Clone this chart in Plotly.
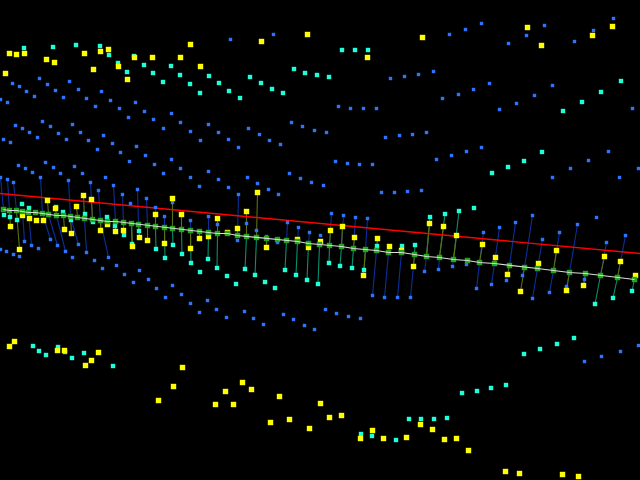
import plotly.graph_objects as go

# values, (x, y) in picture units
red_line_x = [0, 640]
red_line_y = [193.5, 253.5]

base_x = [3.5, 9.5, 16.5, 22.5, 28.5, 35.5, 42.5, 48.5, 56.5, 63.5, 70.5, 77.5, 84.5, 92.5, 100.5, 107.5,
          115.5, 123.5, 131.5, 138.5, 147.5, 155.5, 164.5, 172.5, 181.5, 190.5, 199.5, 208.5, 217.5, 227.5,
          237.5, 246.5, 256.5, 266.5, 277.5, 286.5, 297.5, 308.5, 319.5, 329.5, 341.5, 353.5, 365.5, 376.5,
          388.5, 401.5, 414.5, 426.5, 439.5, 453.5, 467.5, 479.5, 494.5, 509.5, 524.5, 537.5, 553.5, 569.5,
          585.5, 600.5, 617.5, 634.5]
base_y = [209.5, 210.5, 210.5, 211.5, 212.5, 212.5, 213.5, 214.5, 215.5, 215.5, 216.5, 217.5, 218.5, 219.5,
          220.5, 221.5, 221.5, 222.5, 223.5, 224.5, 225.5, 226.5, 227.5, 228.5, 229.5, 230.5, 231.5, 232.5,
          233.5, 233.5, 235.5, 236.5, 237.5, 238.5, 239.5, 240.5, 241.5, 243.5, 244.5, 245.5, 246.5, 248.5,
          249.5, 250.5, 252.5, 252.5, 254.5, 256.5, 257.5, 259.5, 260.5, 262.5, 263.5, 265.5, 267.5, 268.5,
          270.5, 272.5, 273.5, 275.5, 277.5, 279.5]

# (end x, end y, base x, base y)
blue_stems = [
    (0.5, 177.5, 3.5, 209.5), (7.5, 179.5, 9.5, 210.5), (13.5, 182.5, 16.5, 210.5), (40.5, 177.5, 42.5, 213.5),
    (68.5, 180.5, 70.5, 216.5), (90.5, 182.5, 92.5, 219.5), (98.5, 190.5, 100.5, 220.5), (113.5, 185.5, 115.5, 221.5),
    (122.5, 194.5, 123.5, 222.5), (137.5, 189.5, 138.5, 224.5), (146.5, 198.5, 147.5, 225.5), (155.5, 207.5, 155.5, 226.5),
    (164.5, 216.5, 164.5, 227.5), (172.5, 202.5, 172.5, 228.5), (190.5, 220.5, 190.5, 230.5), (208.5, 216.5, 208.5, 232.5),
    (24.5, 241.5, 22.5, 211.5), (31.5, 245.5, 28.5, 212.5), (50.5, 239.5, 42.5, 213.5), (57.5, 245.5, 48.5, 214.5),
    (65.5, 251.5, 56.5, 215.5), (78.5, 244.5, 70.5, 216.5), (86.5, 252.5, 84.5, 218.5), (108.5, 257.5, 100.5, 220.5),
    (238.5, 194.5, 237.5, 235.5), (287.5, 222.5, 286.5, 240.5), (298.5, 227.5, 297.5, 241.5), (309.5, 232.5, 308.5, 243.5),
    (331.5, 213.5, 329.5, 245.5), (343.5, 215.5, 341.5, 246.5), (355.5, 217.5, 353.5, 248.5), (367.5, 218.5, 365.5, 249.5),
    (372.5, 295.5, 376.5, 250.5), (384.5, 297.5, 388.5, 252.5), (397.5, 297.5, 401.5, 252.5), (410.5, 297.5, 414.5, 254.5),
    (424.5, 271.5, 426.5, 256.5), (438.5, 269.5, 439.5, 257.5), (452.5, 266.5, 453.5, 259.5), (466.5, 264.5, 467.5, 260.5),
    (483.5, 232.5, 479.5, 262.5), (476.5, 288.5, 479.5, 262.5), (499.5, 227.5, 494.5, 263.5), (491.5, 284.5, 494.5, 263.5),
    (515.5, 222.5, 509.5, 265.5), (506.5, 280.5, 509.5, 265.5), (532.5, 215.5, 524.5, 267.5), (522.5, 275.5, 524.5, 267.5),
    (542.5, 239.5, 537.5, 268.5), (532.5, 298.5, 537.5, 268.5), (559.5, 232.5, 553.5, 270.5), (549.5, 292.5, 553.5, 270.5),
    (577.5, 224.5, 569.5, 272.5), (566.5, 286.5, 569.5, 272.5), (584.5, 279.5, 585.5, 273.5), (606.5, 242.5, 600.5, 275.5),
    (625.5, 235.5, 617.5, 277.5),
]
cyan_stems = [
    (156, 249, 155.5, 226.5), (165, 258, 164.5, 227.5), (173, 245, 172.5, 228.5), (182, 254, 181.5, 229.5),
    (191, 263, 190.5, 230.5), (208, 259, 208.5, 232.5), (217, 268, 217.5, 233.5), (245, 269, 246.5, 236.5),
    (255, 275, 256.5, 237.5), (285, 270, 286.5, 240.5), (296, 275, 297.5, 241.5), (307, 280, 308.5, 243.5),
    (318, 284, 319.5, 244.5), (329, 263, 329.5, 245.5), (340, 266, 341.5, 246.5), (352, 268, 353.5, 248.5),
    (364, 270, 365.5, 249.5), (377, 246, 376.5, 250.5), (402, 246, 401.5, 252.5), (415, 245, 414.5, 254.5),
    (430, 217, 426.5, 256.5), (445, 214, 439.5, 257.5), (459, 211, 453.5, 259.5), (595, 304, 600.5, 275.5),
    (613, 298, 617.5, 277.5), (632, 291, 634.5, 279.5), (139, 231, 138.5, 224.5), (132, 244, 131.5, 223.5),
]
yellow_stems = [
    (47.5, 200.5, 48.5, 214.5), (83.5, 195.5, 84.5, 218.5), (91.5, 199.5, 92.5, 219.5), (55.5, 208.5, 56.5, 215.5),
    (76.5, 206.5, 77.5, 217.5), (10.5, 226.5, 9.5, 210.5), (19.5, 249.5, 16.5, 210.5), (64.5, 229.5, 63.5, 215.5),
    (71.5, 233.5, 70.5, 216.5), (100.5, 230.5, 100.5, 220.5), (115.5, 231.5, 115.5, 221.5), (123.5, 230.5, 123.5, 222.5),
    (139.5, 237.5, 138.5, 224.5), (147.5, 240.5, 147.5, 225.5), (132.5, 246.5, 131.5, 223.5), (172.5, 198.5, 172.5, 228.5),
    (155.5, 214.5, 155.5, 226.5), (181.5, 214.5, 181.5, 229.5), (199.5, 238.5, 199.5, 231.5), (208.5, 236.5, 208.5, 232.5),
    (164.5, 243.5, 164.5, 227.5), (190.5, 248.5, 190.5, 230.5), (217.5, 218.5, 217.5, 233.5), (237.5, 228.5, 237.5, 235.5),
    (246.5, 211.5, 246.5, 236.5), (257.5, 192.5, 256.5, 237.5), (266.5, 247.5, 266.5, 238.5), (308.5, 247.5, 308.5, 243.5),
    (320.5, 241.5, 319.5, 244.5), (330.5, 230.5, 329.5, 245.5), (342.5, 226.5, 341.5, 246.5), (354.5, 237.5, 353.5, 248.5),
    (363.5, 275.5, 365.5, 249.5), (377.5, 238.5, 376.5, 250.5), (389.5, 246.5, 388.5, 252.5), (401.5, 250.5, 401.5, 252.5),
    (413.5, 266.5, 414.5, 254.5), (429.5, 223.5, 426.5, 256.5), (443.5, 226.5, 439.5, 257.5), (456.5, 235.5, 453.5, 259.5),
    (482.5, 244.5, 479.5, 262.5), (495.5, 257.5, 494.5, 263.5), (507.5, 274.5, 509.5, 265.5), (520.5, 291.5, 524.5, 267.5),
    (538.5, 263.5, 537.5, 268.5), (556.5, 250.5, 553.5, 270.5), (566.5, 290.5, 569.5, 272.5), (583.5, 285.5, 585.5, 273.5),
    (604.5, 256.5, 600.5, 275.5), (620.5, 261.5, 617.5, 277.5), (635.5, 275.5, 634.5, 279.5),
]

blue_free = [
    (230.5, 39.5), (273.5, 34.5), (39.5, 78.5), (12.5, 83.5), (19.5, 86.5), (26.5, 91.5), (34.5, 96.5), (0.5, 99.5),
    (7.5, 102.5), (47.5, 84.5), (55.5, 90.5), (63.5, 97.5), (69.5, 81.5), (78.5, 89.5), (86.5, 98.5), (95.5, 106.5),
    (101.5, 91.5), (110.5, 100.5), (119.5, 108.5), (128.5, 117.5), (135.5, 102.5), (144.5, 111.5), (153.5, 119.5),
    (163.5, 128.5), (171.5, 113.5), (180.5, 122.5), (190.5, 131.5), (200.5, 140.5), (208.5, 124.5), (218.5, 132.5),
    (228.5, 139.5), (238.5, 147.5), (248.5, 128.5), (259.5, 134.5), (269.5, 140.5), (280.5, 144.5), (291.5, 122.5),
    (302.5, 126.5), (314.5, 130.5), (42.5, 121.5), (15.5, 125.5), (22.5, 128.5), (29.5, 132.5), (37.5, 137.5),
    (3.5, 139.5), (10.5, 142.5), (50.5, 126.5), (58.5, 133.5), (66.5, 139.5), (72.5, 124.5), (80.5, 132.5), (88.5, 140.5),
    (97.5, 149.5), (103.5, 135.5), (112.5, 143.5), (120.5, 152.5), (136.5, 146.5), (145.5, 155.5), (171.5, 159.5),
    (613.5, 18.5), (544.5, 25.5), (593.5, 30.5), (526.5, 35.5), (574.5, 41.5), (508.5, 43.5), (481.5, 23.5), (465.5, 29.5),
    (449.5, 34.5), (433.5, 71.5), (418.5, 74.5), (404.5, 76.5), (390.5, 78.5), (489.5, 83.5), (473.5, 89.5), (458.5, 94.5),
    (442.5, 98.5), (552.5, 85.5), (534.5, 95.5), (516.5, 103.5), (499.5, 109.5), (632.5, 108.5), (338.5, 106.5),
    (350.5, 108.5), (363.5, 108.5), (376.5, 108.5), (326.5, 132.5), (385.5, 137.5), (399.5, 135.5), (412.5, 134.5),
    (426.5, 132.5), (481.5, 147.5), (466.5, 151.5), (451.5, 155.5), (436.5, 159.5), (608.5, 151.5), (588.5, 160.5),
    (18.5, 165.5), (25.5, 168.5), (32.5, 172.5), (45.5, 162.5), (53.5, 167.5), (60.5, 173.5), (74.5, 166.5), (82.5, 173.5),
    (105.5, 177.5), (129.5, 161.5), (154.5, 164.5), (163.5, 173.5), (180.5, 168.5), (190.5, 177.5), (199.5, 186.5),
    (208.5, 171.5), (130.5, 203.5), (0.5, 249.5), (6.5, 251.5), (13.5, 254.5), (19.5, 256.5), (38.5, 248.5), (72.5, 257.5),
    (94.5, 260.5), (102.5, 268.5), (116.5, 265.5), (124.5, 274.5), (139.5, 270.5), (148.5, 279.5), (217.5, 224.5),
    (246.5, 223.5), (256.5, 230.5), (266.5, 236.5), (277.5, 242.5), (237.5, 240.5), (320.5, 235.5), (218.5, 179.5),
    (228.5, 187.5), (247.5, 177.5), (257.5, 183.5), (268.5, 189.5), (278.5, 194.5), (289.5, 173.5), (300.5, 178.5),
    (311.5, 182.5), (323.5, 185.5), (335.5, 161.5), (347.5, 163.5), (359.5, 164.5), (372.5, 164.5), (381.5, 192.5),
    (394.5, 192.5), (407.5, 191.5), (421.5, 190.5), (552.5, 177.5), (570.5, 168.5), (619.5, 177.5), (638.5, 168.5),
    (596.5, 217.5), (133.5, 282.5), (156.5, 288.5), (165.5, 297.5), (172.5, 285.5), (181.5, 294.5), (190.5, 303.5),
    (199.5, 312.5), (207.5, 300.5), (216.5, 309.5), (226.5, 317.5), (244.5, 311.5), (253.5, 318.5), (263.5, 324.5),
    (283.5, 314.5), (293.5, 319.5), (304.5, 325.5), (314.5, 329.5), (325.5, 309.5), (336.5, 313.5), (348.5, 316.5),
    (360.5, 318.5), (584.5, 361.5), (601.5, 356.5), (620.5, 351.5), (638.5, 345.5),
]
cyan_free = [
    (24, 48), (53, 47), (76, 45), (100, 46), (109, 55), (134, 56), (118, 63), (127, 72), (144, 65), (153, 73), (171, 66),
    (180, 75), (163, 82), (190, 84), (209, 76), (200, 93), (219, 83), (229, 91), (240, 98), (250, 77), (261, 83), (272, 89),
    (283, 93), (294, 69), (305, 73), (317, 75), (342, 50), (355, 50), (368, 50), (329, 77), (621, 81), (601, 92), (582, 102),
    (563, 111), (542, 152), (524, 161), (508, 167), (492, 173), (22, 204), (29, 208), (4, 215), (10, 217), (17, 220),
    (56, 207), (63, 212), (71, 220), (85, 214), (93, 222), (107, 217), (115, 226), (124, 235), (200, 272), (227, 276),
    (236, 284), (265, 282), (275, 288), (474, 208), (33, 346), (39, 351), (46, 355), (58, 347), (65, 352), (72, 358),
    (84, 353), (113, 366), (524, 354), (540, 349), (557, 344), (574, 338), (462, 393), (477, 391), (491, 388), (506, 385),
    (409, 419), (421, 419), (434, 419), (447, 418), (361, 434), (372, 436), (396, 440),
]
yellow_free = [
    (9.5, 53.5), (16.5, 54.5), (24.5, 53.5), (5.5, 73.5), (46.5, 59.5), (54.5, 62.5), (84.5, 53.5), (93.5, 69.5),
    (100.5, 51.5), (108.5, 49.5), (118.5, 66.5), (127.5, 79.5), (134.5, 57.5), (152.5, 57.5), (180.5, 57.5), (190.5, 44.5),
    (200.5, 66.5), (261.5, 41.5), (307.5, 34.5), (527.5, 27.5), (612.5, 26.5), (592.5, 35.5), (541.5, 45.5), (422.5, 37.5),
    (367.5, 57.5), (22.5, 215.5), (29.5, 218.5), (36.5, 220.5), (43.5, 220.5), (107.5, 224.5), (227.5, 232.5), (297.5, 239.5),
    (14.5, 341.5), (9.5, 346.5), (57.5, 350.5), (64.5, 350.5), (98.5, 352.5), (91.5, 360.5), (85.5, 365.5), (182.5, 367.5),
    (173.5, 386.5), (158.5, 400.5), (242.5, 382.5), (225.5, 391.5), (251.5, 389.5), (215.5, 404.5), (233.5, 404.5),
    (279.5, 396.5), (320.5, 403.5), (270.5, 422.5), (289.5, 419.5), (309.5, 428.5), (329.5, 417.5), (341.5, 415.5),
    (372.5, 430.5), (360.5, 438.5), (383.5, 438.5), (406.5, 437.5), (420.5, 424.5), (432.5, 429.5), (444.5, 439.5),
    (456.5, 438.5), (468.5, 450.5), (505.5, 471.5), (519.5, 473.5), (562.5, 474.5), (578.5, 476.5),
]


def stem_xy(stems):
    xs, ys = [], []
    for ex, ey, bx, by in stems:
        xs += [ex, bx, None]
        ys += [ey, by, None]
    return xs, ys


def add_stems(fig, stems, color):
    xs, ys = stem_xy(stems)
    fig.add_trace(go.Scatter(x=xs, y=ys, mode="lines", line={"color": color, "width": 1.1}, hoverinfo="skip"))


def add_points(fig, free, stems, color, size):
    pts = list(free) + [(s[0], s[1]) for s in stems]
    fig.add_trace(go.Scatter(
        x=[p[0] for p in pts],
        y=[p[1] for p in pts],
        mode="markers",
        marker={"symbol": "square", "size": size, "color": color, "line": {"width": 0}},
    ))


fig = go.Figure()
add_stems(fig, blue_stems, "#0b2f9a")
add_stems(fig, cyan_stems, "#0a8f6c")
add_stems(fig, yellow_stems, "#5b7010")
fig.add_trace(go.Scatter(x=red_line_x, y=red_line_y, mode="lines", line={"color": "#ff0000", "width": 1.4}))
add_points(fig, blue_free, blue_stems, "#2e74ff", 3.4)
add_points(fig, cyan_free, cyan_stems, "#1fffd8", 4.4)
add_points(fig, yellow_free, yellow_stems, "#ffff00", 5.4)
fig.add_trace(go.Scatter(x=base_x, y=base_y, mode="markers",
                         marker={"symbol": "square", "size": 5.4, "color": "#22a51c", "line": {"width": 0}}))
fig.add_trace(go.Scatter(x=base_x, y=base_y, mode="lines", line={"color": "#dcdcdc", "width": 1.2}))

fig.update_layout(
    width=640, height=480,
    margin={"l": 0, "r": 0, "t": 0, "b": 0},
    paper_bgcolor="#000000",
    plot_bgcolor="#000000",
    showlegend=False,
)
fig.update_xaxes(range=[0, 640], visible=False)
fig.update_yaxes(range=[480, 0], visible=False)
fig.write_html("out.html", config={"displayModeBar": False},
               post_script="document.body.style.margin='0';document.body.style.background='#000000';")
